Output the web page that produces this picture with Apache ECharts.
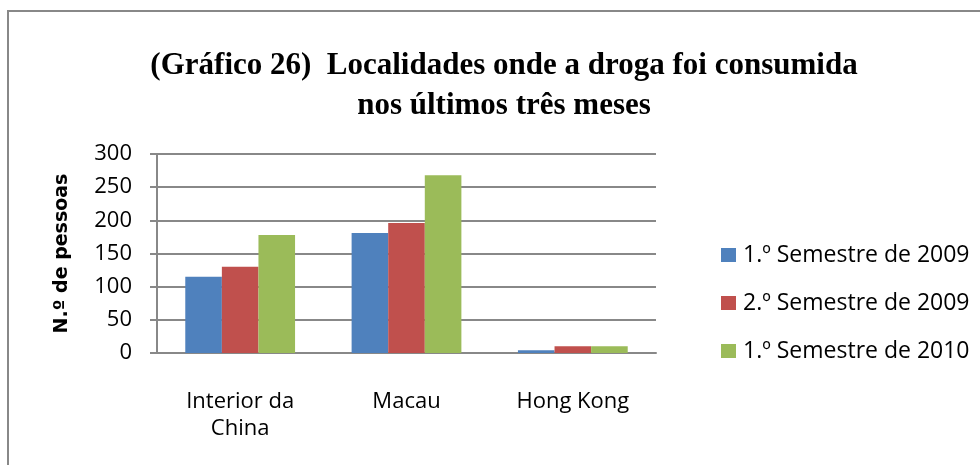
<!DOCTYPE html>
<html>
<head>
<meta charset="utf-8">
<script src="https://cdn.jsdelivr.net/npm/echarts@6/dist/echarts.min.js"></script>
<style>
  html, body { margin: 0; padding: 0; background: #fff; }
  #chart { width: 980px; height: 465px; }
</style>
</head>
<body>
<div id="chart"></div>
<script>
// dados
const categories = ["Interior da\nChina", "Macau", "Hong Kong"];
const seriesNames = ["1.º Semestre de 2009", "2.º Semestre de 2009", "1.º Semestre de 2010"];
const sem1_2009 = [115, 181, 4];
const sem2_2009 = [130, 196, 10];
const sem1_2010 = [178, 268, 10];
const yTicks = [0, 50, 100, 150, 200, 250, 300];

const colors = ["#4f81bd", "#c0504d", "#9bbb59"];
const values = [sem1_2009, sem2_2009, sem1_2010];

const chart = echarts.init(document.getElementById("chart"), null, { renderer: "canvas" });

const labelFont = "Open Sans";

const option = {
  animation: false,
  title: {
    text: "(Gráfico 26)  Localidades onde a droga foi consumida\nnos últimos três meses",
    left: 499,
    textAlign: "center",
    top: 41,
    textStyle: {
      fontFamily: "Liberation Serif",
      fontWeight: "bold",
      fontSize: 31,
      lineHeight: 40,
      color: "#000"
    }
  },
  legend: {
    orient: "vertical",
    left: 716,
    top: 238,
    itemGap: 24,
    itemWidth: 15,
    itemHeight: 14,
    icon: "rect",
    data: seriesNames,
    textStyle: { fontFamily: labelFont, fontSize: 23, lineHeight: 24, color: "#000", padding: [0, 0, 0, 2] }
  },
  grid: { left: 157, right: 324, top: 154, bottom: 112 },
  xAxis: {
    type: "category",
    data: categories,
    axisLine: { lineStyle: { color: "#888", width: 2 } },
    axisTick: { show: false },
    axisLabel: { fontFamily: labelFont, fontSize: 22, color: "#000", margin: 35, lineHeight: 27 }
  },
  yAxis: {
    type: "value",
    min: 0,
    max: 300,
    interval: 50,
    name: "N.º de pessoas",
    nameLocation: "middle",
    nameGap: 85,
    nameTextStyle: { fontFamily: "DejaVu Sans", fontWeight: "bold", fontSize: 19, color: "#000" },
    axisLine: { show: true, lineStyle: { color: "#888", width: 2 } },
    axisTick: { show: true, length: 7, lineStyle: { color: "#888", width: 2 } },
    axisLabel: {
      fontFamily: labelFont, fontSize: 22, color: "#000", margin: 25,
      formatter: (v) => (yTicks.includes(v) ? String(v) : "")
    },
    splitLine: { lineStyle: { color: "#888", width: 2 } }
  },
  series: values.map((d, i) => ({
    name: seriesNames[i],
    type: "bar",
    data: d,
    barGap: "0%",
    barCategoryGap: "34%",
    itemStyle: { color: colors[i] }
  })),
  graphic: [{
    type: "rect",
    shape: { x: 8, y: 11, width: 990, height: 470 },
    style: { fill: null, stroke: "#888", lineWidth: 2 },
    silent: true
  }]
};

chart.setOption(option);
</script>
</body>
</html>
